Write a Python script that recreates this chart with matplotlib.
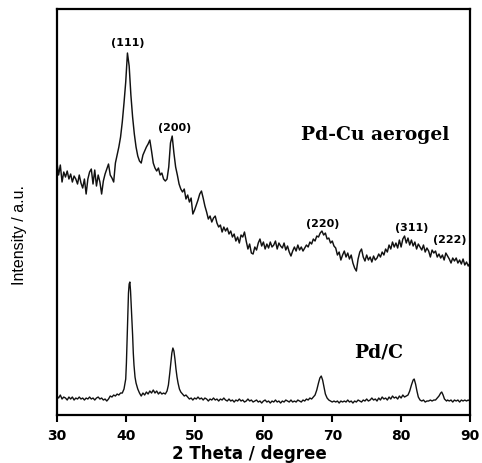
import numpy as np
import matplotlib.pyplot as plt

# Pd-Cu aerogel pattern, 30-90 deg in 0.25 deg steps
aerogel_counts = [
    253, 240, 250, 233, 243, 238, 244, 236, 241, 233, 239, 236, 231, 240, 232, 227,
    236, 221, 236, 243, 246, 231, 245, 229, 240, 233, 221, 234, 241, 246, 251, 240,
    237, 233, 252, 260, 268, 278, 293, 312, 333, 362, 349, 320, 298, 281, 268, 259,
    254, 252, 260, 264, 268, 271, 275, 264, 252, 247, 244, 247, 240, 242, 236, 234,
    236, 248, 272, 279, 262, 248, 240, 231, 226, 223, 226, 216, 220, 213, 217, 201,
    205, 210, 215, 221, 224, 217, 209, 203, 196, 199, 193, 197, 199, 192, 188, 190,
    183, 188, 184, 187, 181, 184, 178, 181, 174, 178, 172, 180, 178, 183, 174, 166,
    171, 162, 161, 168, 165, 172, 176, 169, 173, 166, 171, 167, 173, 168, 170, 174,
    166, 172, 169, 167, 172, 165, 169, 163, 159, 164, 168, 164, 170, 165, 168, 164,
    167, 170, 168, 173, 171, 176, 174, 179, 178, 182, 184, 180, 182, 176, 177, 172,
    174, 169, 167, 160, 163, 155, 160, 164, 158, 162, 156, 160, 152, 147, 144, 156,
    163, 166, 158, 154, 160, 155, 158, 153, 159, 155, 157, 161, 158, 163, 160, 166,
    163, 170, 166, 173, 168, 172, 167, 175, 168, 176, 179, 172, 177, 170, 175, 169,
    173, 166, 171, 168, 165, 170, 163, 167, 164, 158, 165, 162, 164, 158, 161, 157,
    160, 155, 162, 159, 156, 152, 157, 154, 157, 152, 155, 151, 156, 150, 153, 149,
    152,
]
aerogel_theta = np.linspace(30, 90, len(aerogel_counts))

# Pd/C pattern (denser sampling around the reflections)
pdc_theta = [
    30.0, 30.25, 30.5, 30.75, 31.0, 31.25, 31.5, 31.75, 32.0, 32.25, 32.5, 32.75,
    33.0, 33.25, 33.5, 33.75, 34.0, 34.25, 34.5, 34.75, 35.0, 35.25, 35.5, 35.75,
    36.0, 36.25, 36.5, 36.75, 37.0, 37.25, 37.5, 37.75, 38.0, 38.25, 38.5, 38.75,
    39.0, 39.25, 39.5, 39.75, 40.0, 40.1, 40.2, 40.3, 40.4, 40.5, 40.6, 40.7,
    40.8, 40.9, 41.0, 41.1, 41.2, 41.35, 41.5, 41.75, 42.0, 42.25, 42.5, 42.75,
    43.0, 43.25, 43.5, 43.75, 44.0, 44.25, 44.5, 44.75, 45.0, 45.25, 45.5, 45.75,
    46.0, 46.2, 46.4, 46.55, 46.7, 46.85, 47.0, 47.15, 47.3, 47.45, 47.6, 47.8,
    48.0, 48.25, 48.5, 48.75, 49.0, 49.25, 49.5, 49.75, 50.0, 50.25, 50.5, 50.75,
    51.0, 51.25, 51.5, 51.75, 52.0, 52.25, 52.5, 52.75, 53.0, 53.25, 53.5, 53.75,
    54.0, 54.25, 54.5, 54.75, 55.0, 55.25, 55.5, 55.75, 56.0, 56.25, 56.5, 56.75,
    57.0, 57.25, 57.5, 57.75, 58.0, 58.25, 58.5, 58.75, 59.0, 59.25, 59.5, 59.75,
    60.0, 60.25, 60.5, 60.75, 61.0, 61.25, 61.5, 61.75, 62.0, 62.25, 62.5, 62.75,
    63.0, 63.25, 63.5, 63.75, 64.0, 64.25, 64.5, 64.75, 65.0, 65.25, 65.5, 65.75,
    66.0, 66.25, 66.5, 66.75, 67.0, 67.25, 67.5, 67.75, 68.0, 68.2, 68.4, 68.6,
    68.8, 69.0, 69.25, 69.5, 69.75, 70.0, 70.25, 70.5, 70.75, 71.0, 71.25, 71.5,
    71.75, 72.0, 72.25, 72.5, 72.75, 73.0, 73.25, 73.5, 73.75, 74.0, 74.25, 74.5,
    74.75, 75.0, 75.25, 75.5, 75.75, 76.0, 76.25, 76.5, 76.75, 77.0, 77.25, 77.5,
    77.75, 78.0, 78.25, 78.5, 78.75, 79.0, 79.25, 79.5, 79.75, 80.0, 80.25, 80.5,
    80.75, 81.0, 81.25, 81.5, 81.75, 81.9, 82.1, 82.3, 82.5, 82.75, 83.0, 83.25,
    83.5, 83.75, 84.0, 84.25, 84.5, 84.75, 85.0, 85.25, 85.5, 85.75, 85.9, 86.1,
    86.3, 86.6, 86.75, 87.0, 87.25, 87.5, 87.75, 88.0, 88.25, 88.5, 88.75, 89.0,
    89.25, 89.5, 89.75, 90.0,
]
pdc_counts = [
    19, 17, 20, 16, 18, 17, 15, 18, 16, 18, 15, 17,
    16, 18, 16, 17, 15, 17, 16, 18, 16, 17, 15, 17,
    18, 16, 17, 15, 16, 14, 16, 19, 18, 20, 19, 21,
    20, 22, 22, 26, 36, 52, 76, 100, 122, 131, 133, 124,
    110, 96, 80, 62, 50, 38, 32, 26, 22, 19, 22, 20,
    23, 21, 24, 22, 25, 22, 24, 21, 23, 21, 22, 21,
    24, 30, 42, 52, 62, 67, 64, 56, 46, 38, 32, 26,
    23, 21, 19, 20, 18, 16, 17, 15, 17, 16, 18, 16,
    17, 15, 17, 16, 14, 16, 15, 17, 15, 16, 14, 16,
    15, 17, 15, 14, 16, 14, 15, 13, 15, 14, 16, 14,
    15, 13, 14, 16, 14, 15, 13, 14, 15, 13, 14, 12,
    14, 15, 13, 14, 12, 14, 13, 15, 13, 14, 12, 14,
    13, 15, 14, 13, 15, 13, 14, 13, 15, 14, 13, 15,
    14, 16, 15, 17, 16, 18, 20, 25, 32, 37, 39, 35,
    28, 21, 17, 15, 14, 13, 14, 13, 14, 12, 14, 13,
    14, 13, 15, 13, 14, 12, 14, 13, 15, 14, 13, 15,
    14, 16, 14, 15, 17, 15, 16, 14, 17, 15, 18, 16,
    17, 15, 18, 16, 19, 17, 18, 16, 19, 17, 20, 18,
    19, 20, 24, 30, 35, 36, 31, 24, 18, 15, 14, 15,
    13, 14, 14, 15, 14, 15, 15, 17, 19, 22, 23, 20,
    16, 14, 15, 14, 15, 13, 15, 14, 15, 13, 15, 14,
    15, 14, 15, 14,
]

# reflection labels (position in 2theta, height)
hkl_labels = ['(111)', '(200)', '(220)', '(311)', '(222)']
hkl_theta = [40.3, 47.1, 68.6, 81.5, 87.1]
hkl_height = [373, 288, 192, 188, 176]

fig = plt.figure(figsize=(4.82, 4.64), dpi=100)
ax = fig.add_axes([0.118, 0.1034, 0.857, 0.875])

ax.plot(aerogel_theta, aerogel_counts, color='#111111', lw=1.05)
ax.plot(pdc_theta, pdc_counts, color='#111111', lw=1.0)

for lab, t, h in zip(hkl_labels, hkl_theta, hkl_height):
    ax.text(t, h, lab, ha='center', va='center', fontsize=8, fontweight='bold')

ax.text(76.3, 281, 'Pd-Cu aerogel', ha='center', va='center',
        family='DejaVu Serif', fontweight='bold', fontsize=13.5)
ax.text(76.8, 64, 'Pd/C', ha='center', va='center',
        family='DejaVu Serif', fontweight='bold', fontsize=13.5)

ax.set_xlim(30, 90)
ax.set_ylim(0, 406)
ax.set_xticks([30, 40, 50, 60, 70, 80, 90])
ax.set_yticks([])
ax.tick_params(axis='x', direction='out', length=5, width=1.5, labelsize=10, pad=4)
for lbl in ax.get_xticklabels():
    lbl.set_fontweight('bold')
for sp in ax.spines.values():
    sp.set_linewidth(1.6)

fig.text(249 / 482, 1 - 454 / 464, '2 Theta / degree', ha='center', va='center',
         fontsize=12, fontweight='bold')
fig.text(20 / 482, 1 - 235 / 464, 'Intensity / a.u.', ha='center', va='center',
         rotation=90, fontsize=11.5, family='Liberation Sans')

fig.savefig('out.png', dpi=100)
